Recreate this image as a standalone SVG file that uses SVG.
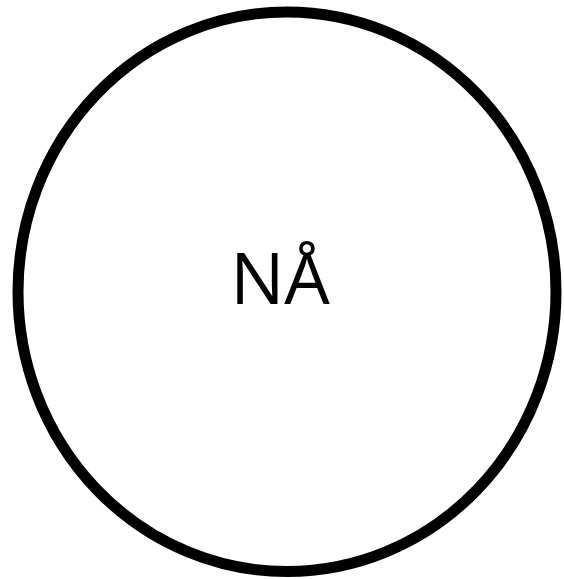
<svg xmlns="http://www.w3.org/2000/svg" width="564" height="579" viewBox="0 0 564 579">
<style>
.node-shape{fill:#ffffff;stroke:#000000;stroke-width:11}
.label{font-family:"Open Sans","Noto Sans",sans-serif;font-size:72px;fill:#000000;text-anchor:middle}
</style>
<rect width="564" height="579" fill="#ffffff"/>
<g id="connectors"></g>
<g id="node-na">
<ellipse class="node-shape" cx="287" cy="291.75" rx="269" ry="279.75"/>
<text class="label" x="280" y="304">NÅ</text>
</g>
</svg>
